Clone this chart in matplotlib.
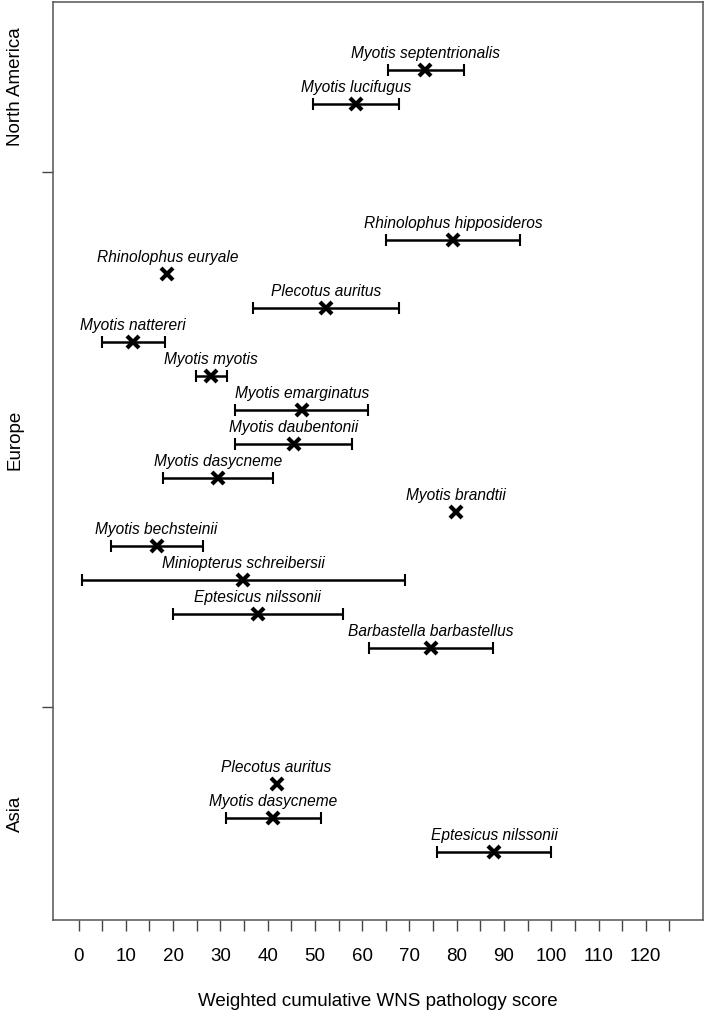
import matplotlib
matplotlib.use("Agg")
import matplotlib.pyplot as plt
import numpy as np

plt.rcParams['font.family'] = ['Liberation Sans', 'DejaVu Sans']

# regions, bottom to top
regions = ['Asia', 'Europe', 'North America']

# species per region (bottom to top), mean score and interval
asia_species = ['Eptesicus nilssonii', 'Myotis dasycneme', 'Plecotus auritus']
asia_mean = [87.9, 41.2, 41.9]
asia_low = [75.9, 31.2, np.nan]
asia_high = [100.0, 51.3, np.nan]

europe_species = ['Barbastella barbastellus', 'Eptesicus nilssonii', 'Miniopterus schreibersii',
                  'Myotis bechsteinii', 'Myotis brandtii', 'Myotis dasycneme',
                  'Myotis daubentonii', 'Myotis emarginatus', 'Myotis myotis',
                  'Myotis nattereri', 'Plecotus auritus', 'Rhinolophus euryale',
                  'Rhinolophus hipposideros']
europe_mean = [74.5, 37.9, 34.8, 16.5, 79.9, 29.5, 45.5, 47.2, 28.0, 11.6, 52.4, 18.8, 79.3]
europe_low = [61.5, 19.9, 0.8, 6.8, np.nan, 17.8, 33.1, 33.1, 24.9, 5.0, 37.0, np.nan, 65.0]
europe_high = [87.7, 56.0, 69.0, 26.4, np.nan, 41.2, 57.9, 61.2, 31.4, 18.3, 67.9, np.nan, 93.3]

na_species = ['Myotis lucifugus', 'Myotis septentrionalis']
na_mean = [58.7, 73.4]
na_low = [49.5, 65.4]
na_high = [67.9, 81.5]

groups = [
    (asia_species, asia_mean, asia_low, asia_high),
    (europe_species, europe_mean, europe_low, europe_high),
    (na_species, na_mean, na_low, na_high),
]

fig = plt.figure(figsize=(7.04, 10.10), dpi=100)
ax = fig.add_axes([53 / 704, 90 / 1010, 649.5 / 704, 918.5 / 1010])

# row positions: groups separated by a gap
y = 2
bounds = [0]
for i, (sp, m, lo, hi) in enumerate(groups):
    ys = np.arange(len(sp)) + y
    m = np.array(m)
    lo = np.array(lo)
    hi = np.array(hi)
    has = ~np.isnan(lo)
    ax.errorbar(m[has], ys[has], xerr=[m[has] - lo[has], hi[has] - m[has]],
                fmt='none', ecolor='black', elinewidth=1.8, capsize=4.5, capthick=1.5)
    ax.plot(m, ys, linestyle='none', marker='x', markersize=8, markeredgewidth=3,
            color='black')
    for name, xv, yv in zip(sp, m, ys):
        ax.annotate(name, (xv, yv), xytext=(0, 11.5), textcoords='offset points',
                    ha='center', va='center', fontsize=11.2, style='italic')
    if i == 0:
        bounds.append(ys[-1] + 2.25)
    elif i == 1:
        bounds.append(ys[-1] + 2)
    y = ys[-1] + 4
bounds.append(27)

ax.set_xlim(-5.4, 132)
ax.set_ylim(0, 27)

ax.set_xticks(np.arange(0, 130, 5))
ax.set_xticklabels([str(v) if v % 10 == 0 else '' for v in range(0, 130, 5)])
ax.tick_params(axis='x', length=8, width=1, pad=12, labelsize=13.5, color='#444444')
ax.set_yticks(bounds[1:3])
ax.set_yticklabels([])
ax.tick_params(axis='y', length=8, width=1, color='#444444')

for i, reg in enumerate(regions):
    ax.text(-0.058, (bounds[i] + bounds[i + 1]) / 2, reg, transform=ax.get_yaxis_transform(),
            rotation=90, ha='center', va='center', fontsize=13.5)

ax.set_xlabel('Weighted cumulative WNS pathology score', fontsize=13.5, labelpad=20)

for s in ax.spines.values():
    s.set_color('#555555')
    s.set_linewidth(1.1)

fig.savefig('out.png', dpi=100)
